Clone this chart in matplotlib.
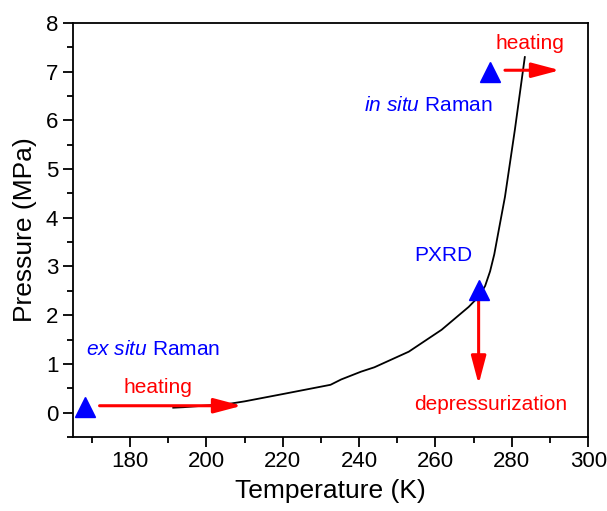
import matplotlib.pyplot as plt
from matplotlib.ticker import MultipleLocator

plt.rcParams['font.family'] = ['Liberation Sans', 'DejaVu Sans']
plt.rcParams['mathtext.fontset'] = 'custom'
plt.rcParams['mathtext.rm'] = 'Liberation Sans'
plt.rcParams['mathtext.it'] = 'Liberation Sans:italic'

# hydrate equilibrium curve
temp_k = [191.3, 194.0, 206.0, 210.0, 220.0, 232.5, 235.3, 240.5, 244.0, 253.0,
          261.6, 268.7, 271.3, 273.0, 274.3, 275.4, 276.7, 278.2, 280.8, 283.4]
pres_mpa = [0.10, 0.11, 0.18, 0.23, 0.38, 0.57, 0.68, 0.84, 0.93, 1.25,
            1.70, 2.17, 2.38, 2.60, 2.90, 3.25, 3.80, 4.43, 5.81, 7.30]

# measurement points (ex situ Raman, PXRD, in situ Raman)
pt_temp = [168.2, 271.3, 274.3]
pt_pres = [0.12, 2.52, 7.0]

BLUE = '#0000ff'
RED = '#ff0000'

fig = plt.figure(figsize=(6.07, 5.11), dpi=100)
ax = fig.add_axes([0.120, 0.145, 0.849, 0.810])

ax.plot(temp_k, pres_mpa, color='black', lw=1.3, zorder=2)

arrow = dict(arrowstyle='-|>,head_length=1.7,head_width=0.45', color=RED,
             lw=2.2, mutation_scale=10, shrinkA=0, shrinkB=0)
ax.annotate('', xy=(209.3, 0.14), xytext=(172.0, 0.14), arrowprops=arrow, zorder=3)
ax.annotate('', xy=(292.6, 7.03), xytext=(278.2, 7.03), arrowprops=arrow, zorder=3)
ax.annotate('', xy=(271.3, 0.58), xytext=(271.3, 2.45), arrowprops=arrow, zorder=3)

ax.plot(pt_temp, pt_pres, '^', color=BLUE, ms=14, zorder=4, clip_on=False)

fs = 15
ax.text(186.0, 1.29, r'$\it{ex\ situ}$ Raman', color=BLUE, fontsize=fs,
        ha='center', va='center')
ax.text(258.0, 6.30, r'$\it{in\ situ}$ Raman', color=BLUE, fontsize=fs,
        ha='center', va='center')
ax.text(262.0, 3.22, 'PXRD', color=BLUE, fontsize=fs, ha='center', va='center')
ax.text(187.4, 0.52, 'heating', color=RED, fontsize=fs, ha='center', va='center')
ax.text(284.8, 7.57, 'heating', color=RED, fontsize=fs, ha='center', va='center')
ax.text(274.5, 0.17, 'depressurization', color=RED, fontsize=fs,
        ha='center', va='center')

ax.set_xlim(165, 300)
ax.set_ylim(-0.5, 8)
ax.xaxis.set_major_locator(MultipleLocator(20))
ax.xaxis.set_minor_locator(MultipleLocator(10))
ax.yaxis.set_major_locator(MultipleLocator(1))
ax.yaxis.set_minor_locator(MultipleLocator(0.5))
ax.tick_params(which='both', direction='out', top=False, right=False,
               labelsize=16, width=1.3)
ax.tick_params(which='major', length=7)
ax.tick_params(which='minor', length=4)
for s in ax.spines.values():
    s.set_linewidth(1.3)

ax.set_xlabel('Temperature (K)', fontsize=19, labelpad=5)
ax.set_ylabel('Pressure (MPa)', fontsize=19, labelpad=6)

fig.savefig('out.png', dpi=100)
